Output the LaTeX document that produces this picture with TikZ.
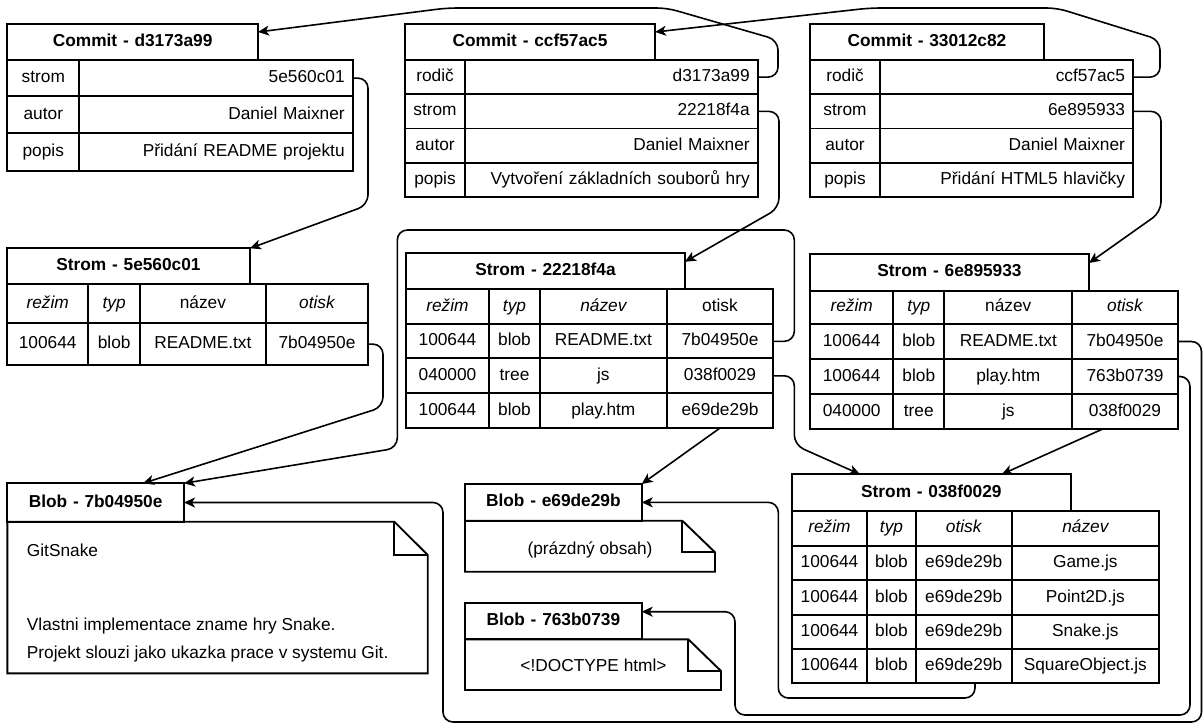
\documentclass[tikz,border=0pt]{standalone}
\usepackage{fontspec}
\setmainfont{Liberation Sans}
\usetikzlibrary{arrows.meta}

% one table cell: name, x1, y1, x2, y2, alignment, text
\newcommand\cellnode[7]{%
  \pgfmathsetmacro\cellW{#4-#2}%
  \pgfmathsetmacro\cellH{#5-#3}%
  \pgfmathsetmacro\cellT{#4-#2-8}%
  \node[cell, align=#6, minimum width=\cellW pt, minimum height=\cellH pt,
        text width=\cellT pt] (#1) at (#2,#3) {#7};}
\newcommand\pad{\kern4pt}

\begin{document}
\begin{tikzpicture}[x=1pt,y=-1pt,
  font=\fontsize{17.3}{20.8}\selectfont,
  cell/.style={draw, line width=1.9pt, anchor=north west, outer sep=0pt,
               inner xsep=4pt, inner ysep=0pt, text height=12.5pt, text depth=3.5pt},
  boxline/.style={draw, line width=1.9pt, line join=miter},
  conn/.style={line width=1.6pt, rounded corners=10pt,
               -{Stealth[length=11pt,width=10pt,inset=3pt]}},
  txt/.style={inner sep=0pt, anchor=base west}]

\fill[white] (0,0) rectangle (1204,724);
\useasboundingbox (0,0) rectangle (1204,724);

% ---------- commits ----------
\cellnode{c1h}{7.3}{24}{258}{60}{center}{\bfseries Commit - d3173a99}
\cellnode{c1r1k}{7.3}{60}{79.3}{96.3}{center}{strom}
\cellnode{c1r1v}{79.3}{60}{352.7}{96.3}{right}{5e560c01\pad}
\cellnode{c1r2k}{7.3}{96.3}{79.3}{133}{center}{autor}
\cellnode{c1r2v}{79.3}{96.3}{352.7}{133}{right}{Daniel Maixner\pad}
\cellnode{c1r3k}{7.3}{133}{79.3}{170.7}{center}{popis}
\cellnode{c1r3v}{79.3}{133}{352.7}{170.7}{right}{Přidání README projektu\pad}

\cellnode{c2h}{405}{24}{655}{60}{center}{\bfseries Commit - ccf57ac5}
\cellnode{c2r1k}{405}{60}{465}{94.25}{center}{rodič}
\cellnode{c2r1v}{465}{60}{757.7}{94.25}{right}{d3173a99\pad}
\cellnode{c2r2k}{405}{94.25}{465}{128.5}{center}{strom}
\cellnode{c2r2v}{465}{94.25}{757.7}{128.5}{right}{22218f4a\pad}
\cellnode{c2r3k}{405}{128.5}{465}{162.75}{center}{autor}
\cellnode{c2r3v}{465}{128.5}{757.7}{162.75}{right}{Daniel Maixner\pad}
\cellnode{c2r4k}{405}{162.75}{465}{197}{center}{popis}
\cellnode{c2r4v}{465}{162.75}{757.7}{197}{right}{Vytvoření základních souborů hry\pad}

\cellnode{c3h}{810}{24}{1044}{60}{center}{\bfseries Commit - 33012c82}
\cellnode{c3r1k}{810}{60}{880}{94.25}{center}{rodič}
\cellnode{c3r1v}{880}{60}{1133}{94.25}{right}{ccf57ac5\pad}
\cellnode{c3r2k}{810}{94.25}{880}{128.5}{center}{strom}
\cellnode{c3r2v}{880}{94.25}{1133}{128.5}{right}{6e895933\pad}
\cellnode{c3r3k}{810}{128.5}{880}{162.75}{center}{autor}
\cellnode{c3r3v}{880}{128.5}{1133}{162.75}{right}{Daniel Maixner\pad}
\cellnode{c3r4k}{810}{162.75}{880}{197}{center}{popis}
\cellnode{c3r4v}{880}{162.75}{1133}{197}{right}{Přidání HTML5 hlavičky\pad}

% ---------- trees ----------
\cellnode{t1h}{7}{248.3}{250}{284}{center}{\bfseries Strom - 5e560c01}
\cellnode{t1r0a}{7}{284}{88.3}{323.3}{center}{\itshape režim}
\cellnode{t1r0b}{88.3}{284}{140}{323.3}{center}{\itshape typ}
\cellnode{t1r0c}{140}{284}{265.7}{323.3}{center}{název}
\cellnode{t1r0d}{265.7}{284}{368.3}{323.3}{center}{\itshape otisk}
\cellnode{t1r1a}{7}{323.3}{88.3}{365}{center}{100644}
\cellnode{t1r1b}{88.3}{323.3}{140}{365}{center}{blob}
\cellnode{t1r1c}{140}{323.3}{265.7}{365}{center}{README.txt}
\cellnode{t1r1d}{265.7}{323.3}{368.3}{365}{center}{7b04950e}

\cellnode{t2h}{406}{253.3}{685}{289}{center}{\bfseries Strom - 22218f4a}
\cellnode{t2r0a}{406}{289}{489}{324.3}{center}{\itshape režim}
\cellnode{t2r0b}{489}{289}{540}{324.3}{center}{\itshape typ}
\cellnode{t2r0c}{540}{289}{666.7}{324.3}{center}{\itshape název}
\cellnode{t2r0d}{666.7}{289}{773.3}{324.3}{center}{otisk}
\cellnode{t2r1a}{406}{324.3}{489}{358.3}{center}{100644}
\cellnode{t2r1b}{489}{324.3}{540}{358.3}{center}{blob}
\cellnode{t2r1c}{540}{324.3}{666.7}{358.3}{center}{README.txt}
\cellnode{t2r1d}{666.7}{324.3}{773.3}{358.3}{center}{7b04950e}
\cellnode{t2r2a}{406}{358.3}{489}{393.3}{center}{040000}
\cellnode{t2r2b}{489}{358.3}{540}{393.3}{center}{tree}
\cellnode{t2r2c}{540}{358.3}{666.7}{393.3}{center}{js}
\cellnode{t2r2d}{666.7}{358.3}{773.3}{393.3}{center}{038f0029}
\cellnode{t2r3a}{406}{393.3}{489}{428}{center}{100644}
\cellnode{t2r3b}{489}{393.3}{540}{428}{center}{blob}
\cellnode{t2r3c}{540}{393.3}{666.7}{428}{center}{play.htm}
\cellnode{t2r3d}{666.7}{393.3}{773.3}{428}{center}{e69de29b}

\cellnode{t3h}{810}{254}{1089}{290.7}{center}{\bfseries Strom - 6e895933}
\cellnode{t3r0a}{810}{290.7}{893.3}{324}{center}{\itshape režim}
\cellnode{t3r0b}{893.3}{290.7}{944.3}{324}{center}{\itshape typ}
\cellnode{t3r0c}{944.3}{290.7}{1072.3}{324}{center}{název}
\cellnode{t3r0d}{1072.3}{290.7}{1177.7}{324}{center}{\itshape otisk}
\cellnode{t3r1a}{810}{324}{893.3}{359}{center}{100644}
\cellnode{t3r1b}{893.3}{324}{944.3}{359}{center}{blob}
\cellnode{t3r1c}{944.3}{324}{1072.3}{359}{center}{README.txt}
\cellnode{t3r1d}{1072.3}{324}{1177.7}{359}{center}{7b04950e}
\cellnode{t3r2a}{810}{359}{893.3}{394}{center}{100644}
\cellnode{t3r2b}{893.3}{359}{944.3}{394}{center}{blob}
\cellnode{t3r2c}{944.3}{359}{1072.3}{394}{center}{play.htm}
\cellnode{t3r2d}{1072.3}{359}{1177.7}{394}{center}{763b0739}
\cellnode{t3r3a}{810}{394}{893.3}{429.3}{center}{040000}
\cellnode{t3r3b}{893.3}{394}{944.3}{429.3}{center}{tree}
\cellnode{t3r3c}{944.3}{394}{1072.3}{429.3}{center}{js}
\cellnode{t3r3d}{1072.3}{394}{1177.7}{429.3}{center}{038f0029}

\cellnode{t4h}{791.7}{474.3}{1071}{510.7}{center}{\bfseries Strom - 038f0029}
\cellnode{t4r0a}{791.7}{510.7}{867.3}{546}{center}{\itshape režim}
\cellnode{t4r0b}{867.3}{510.7}{915.7}{546}{center}{\itshape typ}
\cellnode{t4r0c}{915.7}{510.7}{1011.7}{546}{center}{\itshape otisk}
\cellnode{t4r0d}{1011.7}{510.7}{1159}{546}{center}{\itshape název}
\cellnode{t4r1a}{791.7}{546}{867.3}{580}{center}{100644}
\cellnode{t4r1b}{867.3}{546}{915.7}{580}{center}{blob}
\cellnode{t4r1c}{915.7}{546}{1011.7}{580}{center}{e69de29b}
\cellnode{t4r1d}{1011.7}{546}{1159}{580}{center}{Game.js}
\cellnode{t4r2a}{791.7}{580}{867.3}{615}{center}{100644}
\cellnode{t4r2b}{867.3}{580}{915.7}{615}{center}{blob}
\cellnode{t4r2c}{915.7}{580}{1011.7}{615}{center}{e69de29b}
\cellnode{t4r2d}{1011.7}{580}{1159}{615}{center}{Point2D.js}
\cellnode{t4r3a}{791.7}{615}{867.3}{649.3}{center}{100644}
\cellnode{t4r3b}{867.3}{615}{915.7}{649.3}{center}{blob}
\cellnode{t4r3c}{915.7}{615}{1011.7}{649.3}{center}{e69de29b}
\cellnode{t4r3d}{1011.7}{615}{1159}{649.3}{center}{Snake.js}
\cellnode{t4r4a}{791.7}{649.3}{867.3}{683.3}{center}{100644}
\cellnode{t4r4b}{867.3}{649.3}{915.7}{683.3}{center}{blob}
\cellnode{t4r4c}{915.7}{649.3}{1011.7}{683.3}{center}{e69de29b}
\cellnode{t4r4d}{1011.7}{649.3}{1159}{683.3}{center}{SquareObject.js}

% ---------- blobs (header + folded note) ----------
\draw[boxline] (7.3,521.7) -- (394.3,521.7) -- (427.7,555) -- (427.7,673.3) -- (7.3,673.3) -- cycle;
\draw[boxline] (394.3,521.7) -- (394.3,555) -- (427.7,555);
\cellnode{b1h}{7.3}{483.3}{184}{521.7}{center}{\bfseries Blob - 7b04950e}
\node[txt] (b1l1) at (26.7,556.7) {GitSnake};
\node[txt] (b1l2) at (26.7,630) {Vlastni implementace zname hry Snake.};
\node[txt] (b1l3) at (26.7,658.3) {Projekt slouzi jako ukazka prace v systemu Git.};

\draw[boxline] (465,520.7) -- (682.3,520.7) -- (715,552.3) -- (715,571.7) -- (465,571.7) -- cycle;
\draw[boxline] (682.3,520.7) -- (682.3,552.3) -- (715,552.3);
\cellnode{b2h}{465}{484}{641.7}{520.7}{center}{\bfseries Blob - e69de29b}
\node[txt, anchor=base] (b2l1) at (590,554) {(prázdný obsah)};

\draw[boxline] (465,639.3) -- (688.3,639.3) -- (721,671) -- (721,690) -- (465,690) -- cycle;
\draw[boxline] (688.3,639.3) -- (688.3,671) -- (721,671);
\cellnode{b3h}{465}{602.7}{641.7}{639.3}{center}{\bfseries Blob - 763b0739}
\node[txt, anchor=base] (b3l1) at (593.5,671.7) {<!DOCTYPE html>};

% ---------- references ----------
% parent commits
\draw[conn] (c2r1v.east) -| (778,40) -- (667,8) -- (447,8) -- ([yshift=10pt]c1h.east);
\draw[conn] (c3r1v.east) -| (1160,40) -- (1057,8) -- (870,8) -- ([yshift=10pt]c2h.east);
% commit -> tree
\draw[conn] (c1r1v.east) -| (368,205) -- (t1h.north east);
\draw[conn] (c2r2v.east) -| (779,208) -- ([yshift=-8.4pt]t2h.north east);
\draw[conn] (c3r2v.east) -| (1161,212) -- ([yshift=-9pt]t3h.north east);
% tree -> blob / subtree
\draw[conn] (t1r1d.east) -| (383,407) -- ([xshift=135.7pt]b1h.north west);
\draw[conn] (t2r1d.east) -| (794.3,230) -- (397.3,230) -- (397.3,448) -- (b1h.north east);
\draw[conn] (t2r2d.east) -| (794.3,445) -- ([xshift=68.3pt]t4h.north west);
\draw[conn] (t2r3d.south) -- (b2h.north east);
\draw[conn] ([xshift=-23pt]t3r3d.south) -- ([xshift=210pt]t4h.north west);
\draw[conn] (t3r2d.east) -| (1190,715) -- (735,715) |- ([yshift=-9pt]b3h.north east);
\draw[conn] (t3r1d.east) -| (1201.5,722) -- (443,722) |- (b1h.east);
\draw[conn] ([xshift=11.3pt]t4r4c.south) |- (778.3,698) |- (b2h.east);
\end{tikzpicture}
\end{document}
